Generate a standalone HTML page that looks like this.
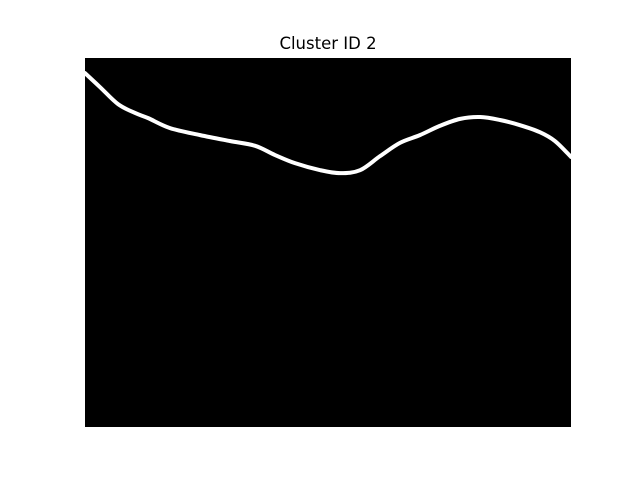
<!DOCTYPE html>
<html><head><meta charset="utf-8"><style>
html,body{margin:0;padding:0;background:#fff;}
svg{display:block;font-family:"DejaVu Sans","Liberation Sans",sans-serif;}
</style></head><body>
<svg id="chart" width="640" height="480">
<text x="328" y="49" text-anchor="middle" font-size="16.5" fill="#000">Cluster ID 2</text>
<rect x="85" y="58" width="486" height="369" fill="#000"/>
<path id="line" fill="none" stroke="#fff" stroke-width="4" stroke-linejoin="round" stroke-linecap="round"/>
</svg>
<script>
const xValues=[0,3.1,6.8,10.3,13,17.5,23.7,29.8,35,39.1,43.2,48.4,52.5,56.6,60.7,64.8,68.9,73,77.2,81.3,85.4,89.5,93.6,96.7,100];
const yValues=[95.9,92.1,87.5,85.1,83.7,81.0,79.1,77.5,76.2,73.7,71.5,69.6,68.8,69.6,73.4,77.0,79.1,81.6,83.5,84.0,83.2,81.8,79.9,77.5,73.2];
const X0=85,X1=571,Y0=427,Y1=58;
function sx(v){return X0+(v-0)/100*(X1-X0);}
function sy(v){return Y0-(v-0)/100*(Y0-Y1);}
const pts=xValues.map((x,i)=>[sx(x),sy(yValues[i])]);
let d='M'+pts[0][0]+','+pts[0][1];
for(let i=0;i<pts.length-1;i++){
 const p0=pts[Math.max(i-1,0)],p1=pts[i],p2=pts[i+1],p3=pts[Math.min(i+2,pts.length-1)];
 const c1=[p1[0]+(p2[0]-p0[0])/6,p1[1]+(p2[1]-p0[1])/6];
 const c2=[p2[0]-(p3[0]-p1[0])/6,p2[1]-(p3[1]-p1[1])/6];
 d+=' C'+c1[0]+','+c1[1]+' '+c2[0]+','+c2[1]+' '+p2[0]+','+p2[1];
}
document.getElementById('line').setAttribute('d',d);
</script>
</body></html>
